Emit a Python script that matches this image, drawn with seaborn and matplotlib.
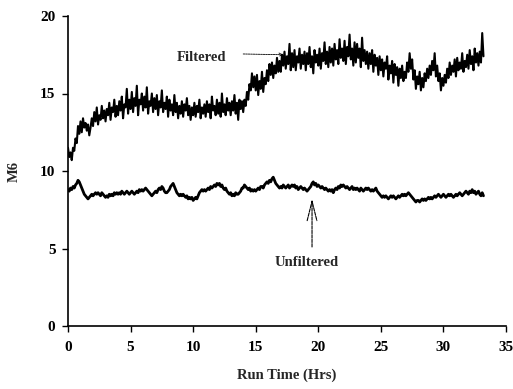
import numpy as np
import pandas as pd
import matplotlib
matplotlib.use("Agg")
import matplotlib.pyplot as plt
import seaborn as sns

# Sampling interval of the logged M6 readings (hours)
SAMPLE_STEP = 0.1

# M6 readings with the inline filter in place, one row per run hour
filtered = [
    11.5, 10.9, 11.2, 10.7, 11.5, 11.3, 12.1, 11.8, 12.9, 12.4,
    13.2, 12.5, 13.4, 12.8, 13.1, 12.6, 13.0, 12.3, 12.8, 13.4,
    12.9, 13.8, 13.2, 14.1, 13.0, 13.6, 13.3, 14.2, 13.4, 13.9,
    13.2, 14.0, 13.6, 14.4, 13.3, 14.1, 13.8, 14.6, 13.5, 14.2,
    13.6, 14.5, 13.9, 14.8, 13.4, 14.3, 14.1, 15.3, 13.7, 14.6,
    14.0, 15.1, 13.8, 14.7, 14.2, 15.5, 13.6, 14.6, 14.3, 15.0,
    13.9, 14.8, 14.1, 15.4, 13.7, 14.5, 14.2, 15.0, 13.8, 14.7,
    14.0, 14.9, 13.6, 14.5, 14.1, 15.2, 13.8, 14.4, 14.0, 14.8,
    13.5, 14.6, 13.9, 14.3, 13.6, 14.9, 13.8, 14.4, 13.4, 14.2,
    13.7, 14.5, 13.5, 14.3, 13.9, 14.7, 13.6, 14.2, 13.3, 14.1,
    13.6, 14.4, 13.5, 14.2, 13.8, 14.6, 13.4, 14.1, 13.7, 14.3,
    13.5, 14.5, 13.8, 14.3, 13.4, 14.8, 13.9, 14.2, 13.6, 14.6,
    13.7, 14.4, 13.5, 15.0, 13.8, 14.3, 13.6, 14.7, 13.9, 14.4,
    13.6, 14.5, 13.9, 14.9, 13.7, 14.4, 13.3, 14.6, 14.0, 14.5,
    13.8, 14.6, 14.2, 15.1, 14.6, 15.6, 15.2, 16.3, 15.4, 16.1,
    15.2, 16.2, 14.9, 15.8, 15.3, 16.4, 15.1, 16.0, 15.6, 16.5,
    15.8, 16.9, 16.2, 17.0, 16.0, 16.8, 16.3, 17.3, 16.4, 17.1,
    16.4, 17.5, 16.8, 17.7, 16.6, 17.4, 16.9, 18.2, 16.5, 17.6,
    16.7, 17.8, 16.5, 17.4, 17.0, 17.9, 16.6, 17.5, 16.9, 17.7,
    16.5, 17.6, 16.9, 18.0, 16.7, 17.4, 16.3, 17.8, 17.0, 17.5,
    16.8, 17.9, 16.6, 17.6, 17.1, 18.3, 16.9, 17.7, 16.7, 18.0,
    17.0, 17.9, 16.8, 18.2, 17.2, 17.8, 16.9, 18.5, 17.3, 17.9,
    17.1, 18.4, 16.9, 18.0, 17.4, 18.8, 17.2, 17.9, 16.8, 18.3,
    17.0, 18.2, 17.3, 17.9, 16.7, 18.6, 17.1, 17.8, 16.9, 17.7,
    16.6, 17.6, 16.9, 17.8, 16.4, 17.5, 16.8, 17.3, 16.2, 17.4,
    16.5, 17.2, 16.1, 17.0, 16.6, 17.4, 15.9, 16.8, 16.3, 17.1,
    15.7, 16.9, 16.2, 16.7, 15.5, 16.6, 16.0, 16.8, 15.8, 16.4,
    16.0, 17.0, 16.4, 17.6, 16.6, 17.2, 15.9, 16.5, 15.3, 16.1,
    15.6, 16.4, 15.2, 16.0, 15.4, 16.3, 15.8, 16.6, 16.0, 16.8,
    16.2, 17.1, 16.5, 17.6, 16.1, 16.8, 15.8, 16.3, 15.2, 16.0,
    15.5, 16.2, 15.7, 16.6, 16.0, 17.0, 16.2, 16.8, 16.4, 17.2,
    16.1, 17.3, 16.5, 17.0, 16.6, 17.6, 16.4, 17.1, 16.7, 17.5,
    16.6, 17.8, 16.9, 17.4, 16.5, 17.9, 17.0, 17.6, 16.8, 17.7,
    17.0, 18.9, 17.4,
]

# M6 readings without the filter, same sampling
unfiltered = [
    8.8, 8.7, 8.9, 8.8, 9.0, 8.9, 9.1, 9.2, 9.4, 9.3,
    9.1, 8.9, 8.7, 8.5, 8.4, 8.3, 8.2, 8.3, 8.4, 8.5,
    8.4, 8.5, 8.6, 8.5, 8.6, 8.5, 8.4, 8.6, 8.5, 8.4,
    8.3, 8.4, 8.3, 8.5, 8.4, 8.5, 8.4, 8.6, 8.5, 8.6,
    8.5, 8.6, 8.5, 8.7, 8.6, 8.5, 8.6, 8.7, 8.6, 8.5,
    8.6, 8.7, 8.6, 8.5, 8.6, 8.7, 8.6, 8.8, 8.7, 8.8,
    8.7, 8.8, 8.9, 8.8, 8.7, 8.6, 8.5, 8.4, 8.5, 8.6,
    8.7, 8.6, 8.8, 8.9, 8.8, 9.0, 8.9, 8.7, 8.6, 8.6,
    8.7, 8.8, 9.0, 9.1, 9.2, 9.0, 8.8, 8.6, 8.5, 8.4,
    8.5, 8.4, 8.5, 8.4, 8.3, 8.4, 8.2, 8.3, 8.2, 8.3,
    8.1, 8.2, 8.3, 8.2, 8.4, 8.6, 8.7, 8.8, 8.7, 8.8,
    8.7, 8.8, 8.9, 8.8, 9.0, 8.9, 9.0, 9.1, 9.0, 9.2,
    9.1, 9.2, 9.0, 9.1, 8.9, 8.8, 8.9, 8.7, 8.6, 8.5,
    8.6, 8.4, 8.5, 8.4, 8.6, 8.5, 8.5, 8.6, 8.7, 8.9,
    8.9, 9.1, 9.0, 8.9, 8.8, 8.9, 8.7, 8.8, 8.7, 8.8,
    8.7, 8.8, 8.9, 8.8, 9.0, 9.0, 8.9, 9.1, 9.2, 9.3,
    9.2, 9.4, 9.3, 9.5, 9.6, 9.4, 9.2, 9.1, 9.0, 8.9,
    9.0, 8.9, 9.1, 9.0, 8.9, 9.0, 9.1, 8.9, 9.0, 9.1,
    9.0, 9.1, 8.9, 9.0, 8.8, 8.9, 9.0, 8.9, 8.8, 8.9,
    8.8, 8.7, 8.8, 8.9, 9.0, 9.2, 9.3, 9.1, 9.2, 9.0,
    9.1, 9.0, 8.9, 9.0, 8.9, 8.8, 8.9, 8.8, 8.7, 8.8,
    8.7, 8.8, 8.6, 8.8, 8.9, 8.8, 9.0, 8.9, 9.1, 9.0,
    9.1, 9.0, 8.9, 9.0, 8.9, 8.8, 8.9, 9.0, 8.8, 8.9,
    8.8, 8.9, 8.8, 8.7, 8.9, 8.8, 8.7, 8.8, 8.9, 8.8,
    8.9, 8.8, 8.7, 8.8, 8.7, 8.8, 8.9, 8.7, 8.6, 8.5,
    8.4, 8.3, 8.4, 8.3, 8.4, 8.3, 8.2, 8.3, 8.4, 8.3,
    8.4, 8.3, 8.2, 8.3, 8.4, 8.3, 8.4, 8.5, 8.4, 8.5,
    8.4, 8.5, 8.6, 8.5, 8.4, 8.3, 8.2, 8.1, 8.0, 8.1,
    8.1, 8.0, 8.1, 8.2, 8.1, 8.2, 8.1, 8.2, 8.3, 8.2,
    8.3, 8.2, 8.3, 8.4, 8.3, 8.4, 8.5, 8.4, 8.3, 8.4,
    8.5, 8.4, 8.3, 8.4, 8.5, 8.4, 8.5, 8.4, 8.3, 8.4,
    8.5, 8.4, 8.5, 8.6, 8.5, 8.4, 8.5, 8.6, 8.7, 8.6,
    8.5, 8.7, 8.6, 8.8, 8.6, 8.7, 8.5, 8.6, 8.7, 8.5,
    8.4, 8.6, 8.4,
]

x_ticks = [0, 5, 10, 15, 20, 25, 30, 35]
y_ticks = [0, 5, 10, 15, 20]

sns.set_theme(style="ticks")
plt.rcParams["font.family"] = ["Liberation Serif", "DejaVu Serif"]
plt.rcParams["font.weight"] = "bold"

df = pd.DataFrame({
    "Run Time (Hrs)": np.arange(len(filtered)) * SAMPLE_STEP,
    "Filtered": filtered,
    "Unfiltered": unfiltered,
})

fig = plt.figure(figsize=(5.13, 3.89), dpi=100)
ax = fig.add_axes([68 / 513, 63 / 389, 438 / 513, 310 / 389])

sns.lineplot(data=df, x="Run Time (Hrs)", y="Filtered", ax=ax,
             color="black", linewidth=1.5, estimator=None)
sns.lineplot(data=df, x="Run Time (Hrs)", y="Unfiltered", ax=ax,
             color="black", linewidth=2.0, estimator=None)

ax.set_xlim(0, 35)
ax.set_ylim(0, 20)
ax.set_xticks(x_ticks)
ax.set_yticks(y_ticks)
ax.set_xticklabels([str(t) for t in x_ticks])
ax.set_yticklabels([str(t) for t in y_ticks])
ax.tick_params(axis="both", direction="out", length=4, width=1.0,
               colors="black", labelsize=11)
ax.tick_params(axis="x", pad=7)
ax.tick_params(axis="y", pad=5)
for lab in ax.get_xticklabels() + ax.get_yticklabels():
    lab.set_fontweight("bold")

for side in ("top", "right"):
    ax.spines[side].set_visible(False)
for side in ("left", "bottom"):
    ax.spines[side].set_color("black")
    ax.spines[side].set_linewidth(1.2)

ax.set_xlabel("Run Time (Hrs)", fontsize=10.5, fontweight="bold", labelpad=10)
ax.set_ylabel("M6", fontsize=10.5, fontweight="bold", labelpad=14)

# Series labels with pointers to their traces
ax.text(8.7, 17.35, "Filtered", ha="left", va="center",
        fontsize=10.5, fontweight="bold")
ax.annotate("", xy=(17.2, 17.5), xytext=(14.0, 17.55),
            arrowprops=dict(arrowstyle="->", color="black", lw=0.6,
                            linestyle=(0, (2, 1)), shrinkA=0, shrinkB=0,
                            mutation_scale=6))
ax.text(19.1, 4.1, "Unfiltered", ha="center", va="center",
        fontsize=10.5, fontweight="bold")
ax.annotate("", xy=(19.5, 8.2), xytext=(19.5, 5.1),
            arrowprops=dict(arrowstyle="->,head_length=1.4,head_width=0.35",
                            color="black", lw=0.8, linestyle=(0, (3, 1)),
                            shrinkA=0, shrinkB=0, mutation_scale=10))

fig.savefig("out.png", dpi=100)
